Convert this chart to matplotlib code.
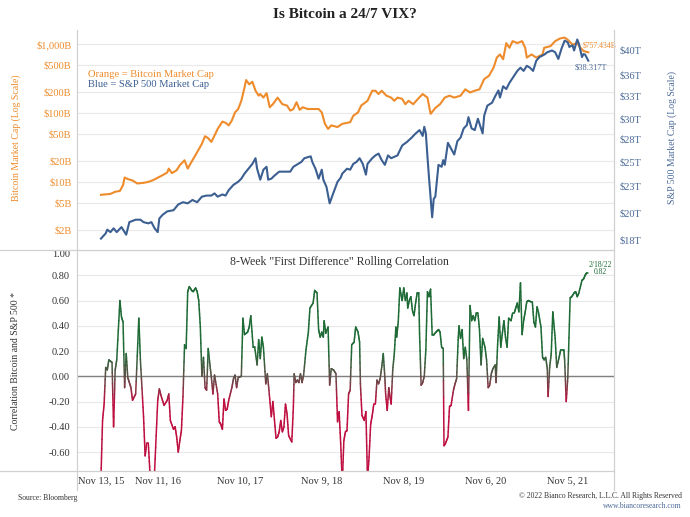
import numpy as np
import matplotlib as mpl
import matplotlib.pyplot as plt
from matplotlib.collections import LineCollection
from matplotlib.lines import Line2D

plt.rcParams['font.family'] = ['Liberation Serif', 'DejaVu Serif']

ORANGE = '#EE8B2B'
BLUE = '#3C5F92'
BLUE_TEXT = '#4B6A98'
GREEN = '#1E6B36'
RED = '#BE0F40'
TEXT = '#333333'
FRAME = '#d0d0d0'
GRID = '#e9e9e9'
CORR_CMAP = mpl.colors.LinearSegmentedColormap.from_list('corr', [RED, '#5f5048', GREEN])

FIGSIZE = 6.9, 5.17

# x axis: weeks since the first data point
x_tick_weeks = [0, 36, 88, 140, 192, 244, 296]
x_tick_labels = ['Nov 13, 15', 'Nov 11, 16', 'Nov 10, 17', 'Nov 9, 18', 'Nov 8, 19', 'Nov 6, 20', 'Nov 5, 21']

# bitcoin market cap, $B
btc_week = [0, 6, 9, 12, 14, 15, 17, 20, 23, 27, 30, 33, 36, 39, 42, 43, 45, 48, 50, 53,
            55, 58, 61, 64, 66, 68, 70, 72, 74, 77, 79, 81, 83, 85, 87, 89, 91, 92, 94, 96,
            98, 100, 101, 103, 105, 107, 109, 112, 115, 118, 120, 122, 124, 126, 128, 131, 138, 140, 142, 144,
            146, 150, 153, 158, 160, 163, 165, 169, 172, 174, 176, 178, 181, 184, 186, 188, 191, 193, 195, 198,
            201, 204, 207, 209, 212, 215, 218, 221, 224, 228, 231, 234, 237, 240, 243, 246, 249, 251, 253, 255,
            257, 259, 261, 264, 267, 269, 270, 273, 276, 280, 281, 285, 288, 291, 294, 296, 299, 302, 304, 306,
            309]
btc_cap = [6.5, 6.7, 7.2, 7.4, 9.0, 11.6, 11.0, 10.5, 9.5, 9.7, 10.0, 10.6, 11.5, 12.5, 13.7, 15.6, 13.4, 14.8, 17.5, 20.6,
           15.6, 20.6, 27, 35.8, 46, 43, 38, 47, 58.7, 75, 72, 66, 78, 102, 114, 150, 233, 300, 260, 283,
           210, 178, 188, 167, 194, 121, 134, 167, 134, 128, 108, 114, 143, 111, 121, 114, 114, 102, 69.5, 58.7,
           66, 62.5, 69.5, 73.5, 91, 102, 128, 150, 210, 210, 188, 210, 178, 167, 150, 167, 160, 134, 150, 134,
           160, 188, 167, 97, 118, 134, 167, 178, 167, 178, 220, 198, 210, 220, 310, 345, 457, 635, 705, 600,
           1030, 880, 1100, 1030, 1100, 880, 635, 705, 635, 705, 880, 930, 1100, 1200, 1240, 1150, 980, 1030, 880, 790,
           757.434]

# S&P 500 market cap, $T
spx_week = [0, 3, 4, 6, 8, 10, 13, 16, 18, 22, 25, 27, 30, 32, 34, 36, 37, 39, 42, 46,
            49, 52, 55, 58, 61, 64, 67, 70, 72, 74, 77, 79, 81, 84, 87, 89, 91, 93, 96, 98,
            99, 101, 103, 105, 106, 108, 110, 113, 120, 122, 125, 127, 129, 133, 134, 136, 138, 140, 141, 143,
            145, 147, 150, 152, 153, 156, 158, 160, 162, 164, 166, 168, 169, 172, 174, 176, 178, 180, 182, 184,
            188, 191, 194, 197, 199, 202, 204, 205, 206, 207, 208, 210, 211, 212, 214, 216, 217, 218, 220, 223,
            224, 226, 228, 230, 232, 233, 235, 237, 239, 242, 243, 245, 248, 250, 252, 253, 255, 257, 259, 261,
            264, 266, 268, 270, 272, 274, 276, 278, 281, 283, 286, 288, 290, 292, 294, 296, 297, 299, 300, 302,
            303, 305, 306, 307, 309]
spx_cap = [18.1, 18.5, 18.8, 18.6, 18.9, 18.6, 19.0, 18.4, 19.4, 19.6, 19.6, 19.4, 19.3, 19.4, 18.9, 18.6, 19.7, 20.0, 20.3, 20.4,
           20.9, 21.1, 21.0, 21.3, 21.1, 21.6, 21.7, 21.7, 21.9, 21.6, 21.8, 21.7, 22.2, 22.7, 23.0, 23.3, 23.8, 24.2, 24.8, 25.4,
           24.3, 23.2, 24.2, 24.5, 23.2, 23.3, 23.6, 24.0, 24.0, 24.5, 24.8, 25.0, 25.4, 25.6, 25.0, 24.3, 23.3, 24.2, 23.2, 22.5,
           21.0, 21.8, 23.0, 23.4, 23.8, 24.3, 24.2, 24.8, 25.0, 25.4, 24.8, 23.7, 24.8, 25.4, 25.7, 25.9, 25.2, 24.7, 25.7, 25.4,
           25.7, 26.8, 27.2, 27.7, 28.1, 28.6, 27.9, 29.0, 28.2, 25.6, 23.4, 19.8, 21.4, 21.6, 24.7, 24.5, 25.2, 24.7, 27.1, 26.1,
           25.8, 27.3, 27.7, 28.8, 29.2, 30.2, 28.8, 28.6, 30.0, 28.2, 30.4, 31.7, 32.1, 33.0, 33.8, 32.8, 34.4, 34.0, 34.9, 35.6,
           36.7, 37.2, 36.7, 37.5, 37.2, 36.7, 38.3, 38.9, 39.3, 39.7, 40.0, 39.7, 38.6, 40.3, 41.7, 41.4, 40.6, 40.9, 40.0, 41.9,
           41.2, 38.9, 39.4, 39.3, 38.317]

# 8-week rolling correlation of first differences
corr_week = [0, 1, 2, 3, 4, 5, 7, 8, 9, 10, 12, 13, 14, 15, 16, 17, 18, 19, 20, 22,
             24, 25, 27, 28, 29, 30, 31, 32, 34, 36, 37, 38, 40, 42, 43, 44, 46, 47, 48, 49,
             50, 51, 52, 53, 54, 55, 56, 57.5, 58.5, 60, 61, 62, 63, 64, 65, 66, 67, 68, 69, 70,
             71, 72, 74, 75, 76, 77, 78, 79, 80, 81, 83, 84, 85, 86, 87, 89, 90, 91, 93, 94,
             95, 96.5, 97.5, 99, 100, 101, 102, 103, 104.5, 105.5, 106.5, 108, 109, 111, 112, 113, 114, 115, 116, 117,
             118, 119, 121, 122, 122.5, 123.5, 124.5, 125.5, 126.5, 127.5, 128.5, 130, 131.5, 132.5, 134.5, 135.5, 137, 138, 139, 140,
             141, 141.5, 142.5, 144, 145, 146, 147.5, 149, 150, 151, 152, 153, 154, 155, 156, 157, 158, 159, 160.5, 161.5,
             163, 164, 164.5, 165.5, 167, 168, 169, 170, 171, 172, 173, 174, 175, 176, 177, 178, 179, 180, 180.5, 181.5,
             182.5, 183, 184, 185, 186, 187, 187.5, 188.5, 189.5, 190.5, 191, 192, 193, 194, 194.5, 195.5, 196.5, 197.5, 198.5, 199.5,
             200.5, 201.5, 202, 203, 204, 205, 206, 207, 208, 209, 210, 211, 212.5, 214, 215, 216, 217, 217.5, 218.5, 220,
             221, 222, 223.5, 224.5, 225.5, 226.5, 227, 228, 229, 230, 231, 232, 233, 234, 235, 236, 237, 238, 239, 240,
             241, 242, 243.5, 244.5, 245.5, 246.5, 247.5, 248.5, 250, 250.5, 251.5, 252.5, 253.5, 254.5, 255.5, 256.5, 257.5, 258.5, 260, 261,
             262, 263, 264, 265, 266, 267, 268, 269, 270, 271, 272.5, 273.5, 274.5, 275.5, 276.5, 277.5, 279, 280, 281, 282,
             283, 283.5, 284.5, 285.5, 286.5, 287, 288, 289, 290.5, 291.5, 292.5, 293.5, 294, 295, 296, 297.5, 298.5, 300, 301, 302,
             303, 305, 306, 307, 308, 309]
corr_value = [-0.80, -0.35, -0.22, 0.07, 0.05, 0.13, 0.11, -0.40, 0.05, 0.13, 0.60, 0.47, 0.43, -0.09, 0.18, -0.01, -0.05, -0.09, -0.19, -0.14,
              0.46, 0.13, -0.32, -0.63, -0.53, -0.53, -0.75, -0.90, -0.75, -0.19, -0.10, -0.15, -0.23, -0.19, -0.14, -0.35, -0.42, -0.40, -0.48, -0.60,
              -0.51, -0.43, -0.16, 0.25, 0.22, 0.67, 0.71, 0.68, 0.67, 0.70, 0.67, 0.60, 0.39, 0.00, 0.15, -0.09, -0.11, 0.22, 0.10, -0.01,
              -0.14, 0.01, -0.14, -0.36, -0.38, -0.42, -0.18, -0.27, -0.26, -0.19, -0.09, -0.02, 0.01, -0.09, -0.01, 0.00, 0.46, 0.33, 0.35, 0.39,
              0.48, 0.23, 0.23, 0.09, 0.29, 0.14, 0.31, 0.23, -0.06, 0.02, -0.11, -0.32, -0.20, -0.49, -0.48, -0.44, -0.35, -0.44, -0.40, -0.22,
              -0.30, -0.47, -0.52, -0.24, 0.02, -0.05, -0.03, -0.05, 0.02, -0.05, 0.01, 0.21, 0.35, 0.54, 0.58, 0.68, 0.66, 0.37, 0.31, 0.35,
              0.31, 0.44, 0.34, 0.39, -0.07, 0.06, 0.05, 0.02, -0.36, -0.28, -0.53, -0.85, -0.51, -0.44, -0.43, -0.14, -0.11, 0.25, 0.27, 0.39,
              0.35, 0.27, -0.06, -0.31, -0.35, -0.28, -0.82, -0.64, -0.38, -0.31, -0.22, -0.22, -0.03, -0.06, -0.02, 0.07, 0.18, -0.01, -0.14, -0.27,
              -0.09, -0.14, -0.22, 0.05, 0.18, 0.39, 0.31, 0.43, 0.70, 0.63, 0.60, 0.70, 0.60, 0.66, 0.54, 0.60, 0.63, 0.52, 0.48, 0.58,
              0.66, 0.66, 0.34, -0.07, -0.05, 0.00, 0.21, 0.67, 0.63, 0.69, 0.33, 0.33, 0.35, 0.37, 0.35, 0.23, 0.22, -0.55, -0.53, -0.48,
              -0.24, -0.23, -0.11, -0.06, -0.02, 0.29, 0.40, 0.30, 0.37, 0.14, 0.23, 0.13, -0.27, 0.56, 0.44, 0.48, 0.44, 0.50, 0.50, 0.37,
              0.09, 0.30, 0.23, 0.13, -0.09, -0.07, 0.02, 0.06, 0.09, -0.05, 0.25, 0.47, 0.23, 0.34, 0.44, 0.31, 0.23, 0.46, 0.44, 0.50,
              0.50, 0.54, 0.58, 0.51, 0.74, 0.33, 0.44, 0.51, 0.59, 0.60, 0.59, 0.59, 0.43, 0.39, 0.55, 0.50, 0.39, 0.15, 0.13, 0.15,
              0.06, -0.16, 0.07, 0.18, 0.51, 0.44, 0.30, 0.07, 0.15, 0.21, 0.21, 0.21, 0.13, -0.20, -0.01, 0.62, 0.63, 0.66, 0.67, 0.63,
              0.66, 0.76, 0.77, 0.80, 0.82, 0.82]

btc_ticks = [2, 5, 10, 20, 50, 100, 200, 500, 1000]
btc_tick_labels = ['$2B', '$5B', '$10B', '$20B', '$50B', '$100B', '$200B', '$500B', '$1,000B']
spx_ticks = [18, 20.2, 22.6, 25, 27.5, 30, 33, 36, 40]
spx_tick_labels = ['$18T', '$20T', '$23T', '$25T', '$28T', '$30T', '$33T', '$36T', '$40T']
corr_ticks = [-0.6, -0.4, -0.2, 0.0, 0.2, 0.4, 0.6, 0.8, 1.0]

X_LIM = (-15.2, 325.3)


def plot_market_caps(ax):
    """
    draws bitcoin (left log axis) and S&P 500 (right log axis) market caps
    :param ax: upper axis
    :return: the twin axis with the S&P 500 line
    """
    ax.plot(btc_week, btc_cap, color=ORANGE, lw=1.5, zorder=3)
    ax.set_yscale('log')
    ax.set_ylim(1.03, 1443)
    ax.set_yticks(btc_ticks)
    ax.set_yticklabels(btc_tick_labels)
    ax.yaxis.set_minor_locator(mpl.ticker.NullLocator())
    ax.tick_params(axis='y', length=0, pad=4, labelsize=7.5, labelcolor=ORANGE)
    ax.tick_params(axis='x', length=0, labelbottom=False)
    ax.grid(axis='y', color=GRID, lw=0.8)
    ax.set_axisbelow(True)

    axr = ax.twinx()
    axr.plot(spx_week, spx_cap, color=BLUE, lw=1.5, zorder=3)
    axr.set_yscale('log')
    axr.set_ylim(17.25, 43.06)
    axr.set_yticks(spx_ticks)
    axr.set_yticklabels(spx_tick_labels)
    axr.yaxis.set_minor_locator(mpl.ticker.NullLocator())
    axr.tick_params(axis='y', length=0, pad=4, labelsize=7.5, labelcolor=BLUE_TEXT)

    ax.set_xlim(*X_LIM)
    for a in (ax, axr):
        for s in a.spines.values():
            s.set_visible(False)

    ax.text(0.02, 0.811, 'Orange = Bitcoin Market Cap', transform=ax.transAxes, color=ORANGE, fontsize=7.6, va='center')
    ax.text(0.02, 0.763, 'Blue = S&P 500 Market Cap', transform=ax.transAxes, color=BLUE, fontsize=7.6, va='center')
    ax.annotate(f'${btc_cap[-1]:.3f}B', (btc_week[-1], btc_cap[-1]), xytext=(-4, 5), textcoords='offset points',
                color=ORANGE, fontsize=5.5, va='center')
    axr.annotate(f'${spx_cap[-1]:.3f}T', (spx_week[-1], spx_cap[-1]), xytext=(-10, -5), textcoords='offset points',
                 color=BLUE_TEXT, fontsize=6, va='center')
    return axr


def plot_correlation(ax):
    """
    draws the rolling correlation, red below zero and green above
    :param ax: lower axis
    :return: None
    """
    x = np.asarray(corr_week, float)
    y = np.asarray(corr_value, float)
    t = np.linspace(0, 1, 7)
    segs, mids = [], []
    for i in range(len(x) - 1):
        xs = x[i] + (x[i + 1] - x[i]) * t
        ys = y[i] + (y[i + 1] - y[i]) * t
        for j in range(len(t) - 1):
            segs.append([(xs[j], ys[j]), (xs[j + 1], ys[j + 1])])
            mids.append((ys[j] + ys[j + 1]) / 2)
    lc = LineCollection(segs, cmap=CORR_CMAP, norm=mpl.colors.Normalize(-0.2, 0.2),
                        linewidths=1.1, capstyle='round', joinstyle='round', zorder=3)
    lc.set_array(np.array(mids))
    ax.add_collection(lc)

    ax.axhline(0, color='#808080', lw=1, zorder=2)
    ax.set_xlim(*X_LIM)
    ax.set_ylim(-0.75, 1.0)
    ax.set_yticks(corr_ticks)
    ax.yaxis.set_major_formatter(mpl.ticker.FormatStrFormatter('%.2f'))
    ax.tick_params(axis='y', length=0, pad=5, labelsize=7.5, labelcolor=TEXT)
    ax.set_xticks(x_tick_weeks)
    ax.set_xticklabels(x_tick_labels)
    ax.tick_params(axis='x', length=0, pad=4, labelsize=7.5, labelcolor=TEXT)
    ax.grid(axis='y', color=GRID, lw=0.8)
    ax.set_axisbelow(True)
    for s in ax.spines.values():
        s.set_visible(False)
    ax.get_yticklabels()[-1].set_va('top')

    ax.text(0.489, 0.945, '8-Week "First Difference" Rolling Correlation', transform=ax.transAxes,
            ha='center', va='center', fontsize=8.5, color=TEXT)
    ax.annotate(f'2/18/22\n{corr_value[-1]:.2f}', (corr_week[-1], corr_value[-1]), xytext=(9, 3),
                textcoords='offset points', color=GREEN, fontsize=5.5, ha='center', va='center',
                linespacing=0.95)


fig = plt.figure(figsize=FIGSIZE, dpi=100)
W, H = FIGSIZE[0] * 100, FIGSIZE[1] * 100
ax_top = fig.add_axes([77 / W, 1 - 250 / H, 537 / W, 217 / H])
ax_bot = fig.add_axes([77 / W, 1 - 471 / H, 537 / W, 221 / H])

plot_market_caps(ax_top)
plot_correlation(ax_bot)

# table-style frame lines
for x0, y0, x1, y1 in [(77, 30, 77, 490), (614, 30, 614, 490), (0, 250, 614, 250), (0, 471, 614, 471)]:
    fig.add_artist(Line2D([x0 / W, x1 / W], [1 - y0 / H, 1 - y1 / H], color=FRAME, lw=0.9))

fig.text(0.5, 1 - 15 / H, 'Is Bitcoin a 24/7 VIX?', ha='center', va='center', fontsize=11, fontweight='bold', color='#222222')
fig.text(16 / W, 1 - 138 / H, 'Bitcoin Market Cap (Log Scale)', rotation=90, ha='center', va='center', fontsize=7, color=ORANGE)
fig.text(672 / W, 1 - 138 / H, 'S&P 500 Market Cap (Log Scale)', rotation=90, ha='center', va='center', fontsize=7, color=BLUE_TEXT)
fig.text(16 / W, 1 - 361 / H, 'Correlation Bitcoin and S&P 500 *', rotation=90, ha='center', va='center', fontsize=7, color=TEXT)
fig.text(18 / W, 1 - 498 / H, 'Source: Bloomberg', ha='left', va='center', fontsize=5.5, color=TEXT)
fig.text(682 / W, 1 - 496 / H, '\u00a9 2022 Bianco Research, L.L.C. All Rights Reserved', ha='right', va='center', fontsize=5.5, color=TEXT)
fig.text(682 / W, 1 - 506 / H, 'www.biancoresearch.com', ha='right', va='center', fontsize=5.5, color=BLUE_TEXT)

fig.savefig('out.png', dpi=100, facecolor='white')
